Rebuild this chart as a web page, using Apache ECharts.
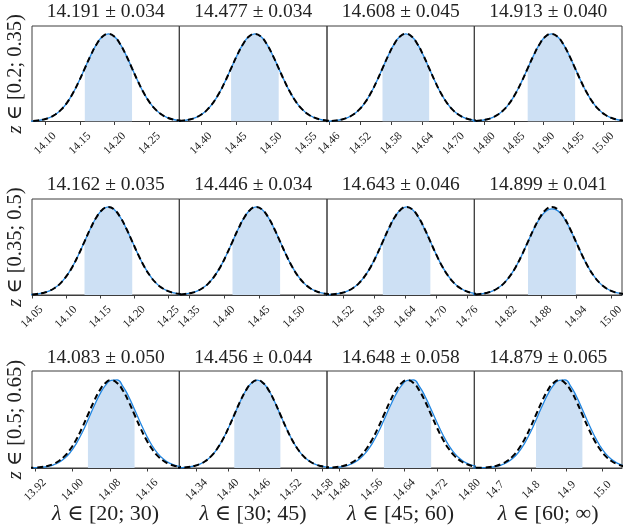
<!DOCTYPE html>
<html><head><meta charset="utf-8">
<script src="https://cdn.jsdelivr.net/npm/echarts@6/dist/echarts.min.js"></script>
<style>html,body{margin:0;padding:0;background:#fff}#c{width:623px;height:531px}</style>
</head><body><div id="c"></div>
<script>
// ---------------- data ----------------
const colLabels = ['[20; 30)', '[30; 45)', '[45; 60)', '[60; \u221e)'];
const rowLabels = ['[0.2; 0.35)', '[0.35; 0.5)', '[0.5; 0.65)'];
const means = [
  [14.191, 14.477, 14.608, 14.913],
  [14.162, 14.446, 14.643, 14.899],
  [14.083, 14.456, 14.648, 14.879]
];
const sigmas = [
  [0.034, 0.034, 0.045, 0.040],
  [0.035, 0.034, 0.046, 0.041],
  [0.050, 0.044, 0.058, 0.065]
];
const xMins = [
  [14.081, 14.369, 14.456, 14.783],
  [14.050, 14.336, 14.489, 14.766],
  [13.913, 14.307, 14.450, 14.641]
];
const xMaxs = [
  [14.293, 14.580, 14.740, 15.032],
  [14.266, 14.547, 14.774, 15.019],
  [14.229, 14.589, 14.812, 15.055]
];
const tickValues = [
  [[14.10,14.15,14.20,14.25],[14.40,14.45,14.50,14.55],[14.46,14.52,14.58,14.64,14.70],[14.80,14.85,14.90,14.95,15.00]],
  [[14.05,14.10,14.15,14.20,14.25],[14.35,14.40,14.45,14.50],[14.52,14.58,14.64,14.70,14.76],[14.82,14.88,14.94,15.00]],
  [[13.92,14.00,14.08,14.16],[14.34,14.40,14.46,14.52,14.58],[14.48,14.56,14.64,14.72,14.80],[14.7,14.8,14.9,15.0]]
];
const tickDecimals = [[2,2,2,2],[2,2,2,2],[2,2,2,1]];

// curve samples: offsets from the mean in units of sigma, and relative heights
const sigmaOffsets = [-4,-3.75,-3.5,-3.25,-3,-2.75,-2.5,-2.25,-2,-1.75,-1.5,-1.25,-1,-0.75,-0.5,-0.25,0,
  0.25,0.5,0.75,1,1.25,1.5,1.75,2,2.25,2.5,2.75,3,3.25,3.5,3.75,4];
const fitShape = [0.0003,0.0009,0.0022,0.0051,0.0111,0.0228,0.0439,0.0796,0.1353,0.2163,0.3247,0.4578,0.6065,0.7548,0.8825,0.9692,1,
  0.9692,0.8825,0.7548,0.6065,0.4578,0.3247,0.2163,0.1353,0.0796,0.0439,0.0228,0.0111,0.0051,0.0022,0.0009,0.0003];
const postSymmetric = fitShape;
const postFlatTop = [0.0003,0.0009,0.0022,0.0051,0.0111,0.0228,0.0439,0.0796,0.1353,0.2163,0.3247,0.4578,0.6065,0.752,0.874,0.952,0.977,
  0.955,0.876,0.753,0.6065,0.4578,0.3247,0.2163,0.1353,0.0796,0.0439,0.0228,0.0111,0.0051,0.0022,0.0009,0.0003];
const postRightLean = [0.0002,0.0006,0.0015,0.0037,0.0082,0.0172,0.0340,0.0632,0.1103,0.1806,0.2780,0.4020,0.5461,0.6969,0.8353,0.9406,0.9990,
  1.0030,0.9300,0.8120,0.6670,0.5162,0.3753,0.2563,0.1645,0.0992,0.0561,0.0299,0.0149,0.0070,0.0031,0.0013,0.0005];
const posteriorShapes = [
  [postSymmetric, postSymmetric, postSymmetric, postSymmetric],
  [postSymmetric, postSymmetric, postSymmetric, postFlatTop],
  [postRightLean, postSymmetric, postRightLean, postRightLean]
];

// ---------------- layout ----------------
const colEdges = [32, 179.3, 327, 474.3, 622];
const rowEdges = [[26, 121.5], [199, 295], [371, 468]];
const titleY = [12, 185, 358];
const yMaxRel = [1.09, 1.09, 1.105];
const FONT = '"Liberation Serif", "DejaVu Serif", serif';
const frameColor = '#3c3c3c';
const tickLabelOffset = 22;

const grid = [], xAxis = [], yAxis = [], series = [], graphic = [];
for (let r = 0; r < 3; r++) {
  for (let c = 0; c < 4; c++) {
    const i = r * 4 + c;
    const m = means[r][c], s = sigmas[r][c];
    const left = colEdges[c], right = colEdges[c + 1];
    grid.push({
      left: left, top: rowEdges[r][0], width: right - left, height: rowEdges[r][1] - rowEdges[r][0],
      show: true, borderColor: frameColor, borderWidth: 1, backgroundColor: 'transparent',
      containLabel: false, outerBoundsMode: 'none'
    });
    xAxis.push({
      gridIndex: i, type: 'value', min: xMins[r][c], max: xMaxs[r][c],
      axisLine: { show: true, lineStyle: { color: frameColor, width: 1 } },
      axisTick: { show: true, customValues: tickValues[r][c], length: 3.5, lineStyle: { color: frameColor, width: 1 } },
      axisLabel: { show: false },
      splitLine: { show: false }
    });
    yAxis.push({ gridIndex: i, type: 'value', min: 0, max: yMaxRel[r], show: false });

    const post = posteriorShapes[r][c];
    const postPts = sigmaOffsets.map((k, j) => [m + k * s, post[j]]);
    const fitPts = sigmaOffsets.map((k, j) => [m + k * s, fitShape[j]]);
    const shadePts = sigmaOffsets.map((k, j) => [k, j]).filter(p => Math.abs(p[0]) <= 1)
      .map(p => [m + p[0] * s, post[p[1]]]);
    series.push({
      type: 'line', xAxisIndex: i, yAxisIndex: i, data: shadePts, smooth: true, symbol: 'none',
      lineStyle: { width: 0, opacity: 0 }, areaStyle: { color: '#cde0f4', opacity: 1 }, z: 1, silent: true
    });
    series.push({
      type: 'line', xAxisIndex: i, yAxisIndex: i, data: postPts, smooth: true, symbol: 'none',
      lineStyle: { color: '#2086e2', width: 1.3 }, z: 2, silent: true
    });
    series.push({
      type: 'line', xAxisIndex: i, yAxisIndex: i, data: fitPts, smooth: true, symbol: 'none',
      lineStyle: { color: '#000', width: 2, type: [6, 3.5] }, z: 3, silent: true
    });
    graphic.push({
      type: 'text', x: (left + right) / 2, y: titleY[r], silent: true,
      style: { text: m.toFixed(3) + ' \u00b1 ' + s.toFixed(3), font: '19.5px ' + FONT, fill: '#222',
        textAlign: 'center', textVerticalAlign: 'middle' }
    });
  }
  graphic.push({
    type: 'text', x: 16, y: (rowEdges[r][0] + rowEdges[r][1]) / 2, rotation: Math.PI / 2, silent: true,
    style: { text: '{i|z} \u2208 ' + rowLabels[r], font: '20.5px ' + FONT, fill: '#222',
      textAlign: 'center', textVerticalAlign: 'middle',
      rich: { i: { fontStyle: 'italic', fontSize: 20.5, fontFamily: FONT, fill: '#222' } } }
  });
}
for (let c = 0; c < 4; c++) {
  graphic.push({
    type: 'text', x: (colEdges[c] + colEdges[c + 1]) / 2, y: 514, silent: true,
    style: { text: '{i|\u03bb} \u2208 ' + colLabels[c], font: '22px ' + FONT, fill: '#222',
      textAlign: 'center', textVerticalAlign: 'middle',
      rich: { i: { fontStyle: 'italic', fontSize: 22, fontFamily: FONT, fill: '#222' } } }
  });
}

const chart = echarts.init(document.getElementById('c'), null, { renderer: 'canvas' });
chart.setOption({ animation: false, backgroundColor: '#fff', grid, xAxis, yAxis, series });

// rotated tick labels (45°, centred under each tick, as in the reference), placed through the axis scale
for (let r = 0; r < 3; r++) {
  for (let c = 0; c < 4; c++) {
    const i = r * 4 + c;
    tickValues[r][c].forEach(v => {
      const px = chart.convertToPixel({ xAxisIndex: i }, v);
      graphic.push({
        type: 'text', x: px, y: rowEdges[r][1] + tickLabelOffset, rotation: Math.PI / 4, silent: true,
        style: { text: v.toFixed(tickDecimals[r][c]), font: '11.5px ' + FONT, fill: '#1a1a1a',
          textAlign: 'center', textVerticalAlign: 'middle' }
      });
    });
  }
}
chart.setOption({ graphic });
</script></body></html>
